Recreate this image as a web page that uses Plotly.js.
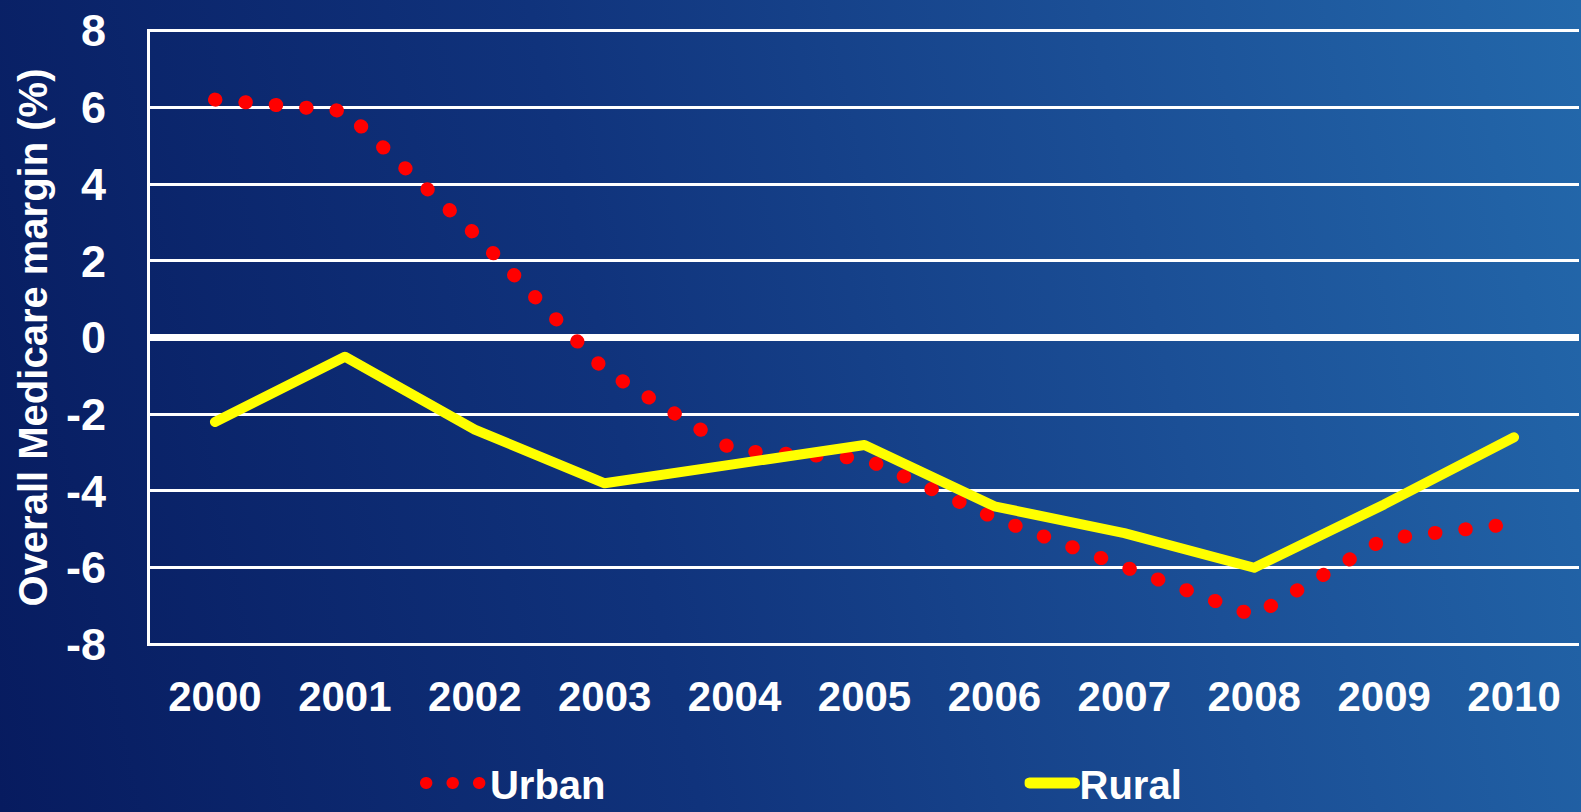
<!DOCTYPE html>
<html>
<head>
<meta charset="utf-8">
<script src="https://cdn.plot.ly/plotly-3.0.1.min.js"></script>
<style>
html, body { margin: 0; padding: 0; width: 1581px; height: 812px; overflow: hidden;
  background: linear-gradient(78deg, #071b5f 0%, #10337c 40%, #1b4f96 72%, #2368ab 100%); }
#chart { width: 1581px; height: 812px; }
.js-line { stroke-linecap: round; stroke-linejoin: round; }
.legend .legendlines path { stroke-dasharray: 0.5px 26px !important; stroke-dashoffset: -3px; stroke-width: 12px !important; }
.legend2 .legendlines path { stroke-width: 11px !important; }
</style>
</head>
<body>
<div id="chart"></div>
<script>
const years = ["2000","2001","2002","2003","2004","2005","2006","2007","2008","2009","2010"];
const urban = [6.2, 5.9, 2.7, -0.85, -2.95, -3.15, -4.7, -5.95, -7.25, -5.25, -4.85];
const rural = [-2.2, -0.5, -2.4, -3.8, -3.3, -2.8, -4.4, -5.1, -6.0, -4.35, -2.6];
const yTicks = [-8, -6, -4, -2, 0, 2, 4, 6, 8];

const font = "Liberation Sans, Arial, sans-serif";
const legFont = { family: font, size: 40, color: "#ffffff", weight: "bold" };

const traces = [
  { x: years, y: urban, name: "Urban", type: "scatter", mode: "lines", legend: "legend",
    line: { color: "#ff0000", width: 14, dash: "0.5px,30px" } },
  { x: years, y: rural, name: "Rural", type: "scatter", mode: "lines", legend: "legend2",
    line: { color: "#ffff00", width: 10 } }
];

const layout = {
  width: 1581, height: 812,
  paper_bgcolor: "rgba(0,0,0,0)", plot_bgcolor: "rgba(0,0,0,0)",
  margin: { l: 150, r: 2, t: 29, b: 166, autoexpand: false },
  showlegend: true,
  legend: {
    orientation: "h", x: 0.1875, xanchor: "left", y: -0.222, yanchor: "middle",
    itemwidth: 62, font: legFont, bgcolor: "rgba(0,0,0,0)"
  },
  legend2: {
    orientation: "h", x: 0.612, xanchor: "left", y: -0.222, yanchor: "middle",
    itemwidth: 45, font: legFont, bgcolor: "rgba(0,0,0,0)"
  },
  xaxis: {
    type: "category", range: [-0.5, 10.5],
    showgrid: false, zeroline: false, showline: false,
    ticks: "", ticklabelstandoff: 22, automargin: false,
    tickfont: { family: font, size: 42, color: "#ffffff", weight: "bold" }
  },
  yaxis: {
    range: [-8.04, 8.04], tickvals: yTicks, ticktext: yTicks.map(String),
    showgrid: true, gridcolor: "#ffffff", gridwidth: 3,
    zeroline: true, zerolinecolor: "#ffffff", zerolinewidth: 7,
    showline: true, linecolor: "#ffffff", linewidth: 3, mirror: false,
    ticks: "", ticklabelstandoff: 32, automargin: false,
    tickfont: { family: font, size: 45, color: "#ffffff", weight: "bold" },
    title: { text: "Overall Medicare margin (%)", standoff: 6,
      font: { family: font, size: 40, color: "#ffffff", weight: "bold" } }
  }
};

Plotly.newPlot("chart", traces, layout, { displayModeBar: false, staticPlot: true });
</script>
</body>
</html>
